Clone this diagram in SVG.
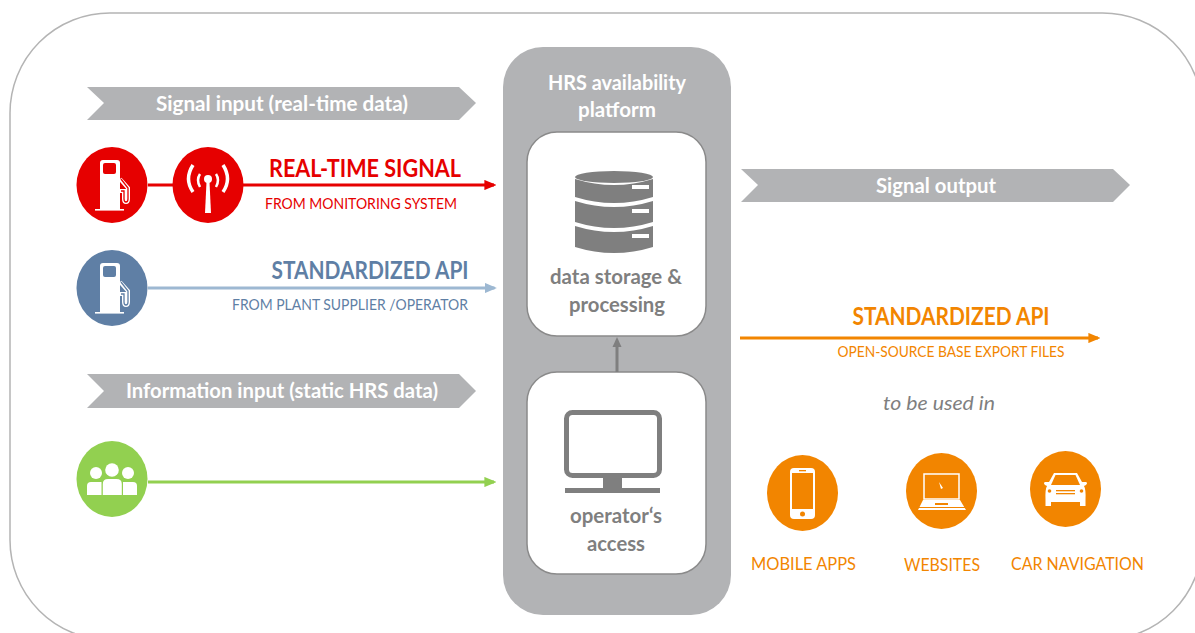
<svg xmlns="http://www.w3.org/2000/svg" width="1195" height="633" viewBox="0 0 1195 633">
<style>
text{font-family:Lato,"Liberation Sans",sans-serif}
.b{font-weight:700}
.band{fill:#b2b3b5}
.bt{fill:#fff;font-size:20px;font-weight:700;text-anchor:middle}
.box{fill:#fff;stroke:#8a8a8a;stroke-width:1.5}
.gt{fill:#7f7f7f;font-size:21px;font-weight:700;text-anchor:middle}
.o{fill:#f28500}
.ot{fill:#f28500;font-size:17px;text-anchor:middle}
.ic{fill:#fff}
.il{fill:none;stroke:#fff}
.g{fill:#7f7f7f}
</style>
<defs>
<marker id="ar" markerWidth="4" markerHeight="3.4" refX="3.2" refY="1.7" orient="auto"><path d="M0 0L4 1.700L0 3.400Z" fill="context-stroke"/></marker>
<g id="pump">
<path class="ic" d="M-12-22Q-12-25-9-25H5Q8-25 8-22V24H-12Z"/>
<rect x="-9" y="-22" width="13" height="11" rx="2" fill="var(--c)"/>
<rect class="ic" x="-17" y="24" width="29" height="1.600"/>
<path fill="none" stroke="#fff" stroke-width="4" d="M8-6L16 3V14Q16 17 14 17Q12 17 12 14V6H8"/>
<path fill="none" stroke="var(--c)" stroke-width="1.300" d="M9-6L16 3V14Q16 17 14 17Q12 17 12 14V6H9"/>
</g>
</defs>

<rect id="frame" x="10" y="13" width="1192.500" height="627" rx="100" ry="100" fill="#fff" stroke="#b4b4b4" stroke-width="1.500"/>

<g id="connectors" fill="none">
<path d="M148 185H494" stroke="#e60000" stroke-width="3" marker-end="url(#ar)"/>
<path d="M148 288H494.500" stroke="#9db8d2" stroke-width="3" marker-end="url(#ar)"/>
<path d="M148 482H494" stroke="#92d050" stroke-width="3" marker-end="url(#ar)"/>
<path d="M740 338H1098" stroke="#f28500" stroke-width="3" marker-end="url(#ar)"/>
</g>

<g id="signal-input"><path class="band" d="M87 87H459L476 103L459 120H87L104 103Z"/><text class="bt" x="282" y="111" textLength="252" lengthAdjust="spacingAndGlyphs">Signal input (real-time data)</text></g>
<g id="info-input"><path class="band" d="M87 374H459L476 391L459 408H87L104 391Z"/><text class="bt" x="282" y="398" textLength="312" lengthAdjust="spacingAndGlyphs">Information input (static HRS data)</text></g>
<g id="signal-output"><path class="band" d="M741 169H1113L1130 185L1113 202H741L758 185Z"/><text class="bt" x="936" y="193" textLength="120" lengthAdjust="spacingAndGlyphs">Signal output</text></g>

<g id="red-pump"><ellipse cx="112" cy="185" rx="35.500" ry="38" fill="#e60000"/><use href="#pump" x="112" y="185" style="--c:#e60000"/></g>
<g id="antenna"><ellipse cx="208" cy="185" rx="35.500" ry="38" fill="#e60000"/>
<path class="ic" d="M206.500 182H209.500L211 213H205Z"/><circle class="ic" cx="208" cy="179" r="4"/>
<path class="il" stroke-width="2.500" d="M200 174Q196 180 200 187M216 174Q220 180 216 187"/>
<path class="il" stroke-width="3.500" d="M193 165Q184 179 193 192M223 165Q232 179 223 192"/></g>
<g id="blue-pump"><ellipse cx="112" cy="288" rx="35.500" ry="38" fill="#5f7fa5"/><use href="#pump" x="112" y="288" style="--c:#5f7fa5"/></g>
<g id="people"><ellipse cx="112" cy="479" rx="35.500" ry="38" fill="#92d050"/>
<circle class="ic" cx="96" cy="473" r="6"/><circle class="ic" cx="128" cy="473" r="6"/><circle class="ic" cx="112" cy="470" r="6.800"/>
<path class="ic" d="M87 495V486Q87 482 91 482H101.500V495Z"/>
<path class="ic" d="M137 495V486Q137 482 133 482H123V495Z"/>
<path class="ic" d="M102.800 495V484Q102.800 479 108 479H116.500Q121.800 479 121.800 484V495Z"/></g>

<text class="b" x="365" y="177" text-anchor="middle" font-size="24" fill="#e60000" textLength="192" lengthAdjust="spacingAndGlyphs">REAL-TIME SIGNAL</text>
<text x="361" y="209" text-anchor="middle" font-size="15" fill="#e60000" textLength="192" lengthAdjust="spacingAndGlyphs">FROM MONITORING SYSTEM</text>
<text class="b" x="370" y="279" text-anchor="middle" font-size="24" fill="#5f7fa5" textLength="197" lengthAdjust="spacingAndGlyphs">STANDARDIZED API</text>
<text x="350" y="310" text-anchor="middle" font-size="15" fill="#5f7fa5" textLength="236" lengthAdjust="spacingAndGlyphs">FROM PLANT SUPPLIER /OPERATOR</text>

<g id="platform">
<rect x="503" y="47" width="228" height="568" rx="40" fill="#b2b3b5"/>
<text class="bt" x="617" y="90" textLength="138" lengthAdjust="spacingAndGlyphs">HRS availability</text>
<text class="bt" x="617" y="117" textLength="78" lengthAdjust="spacingAndGlyphs">platform</text>
</g>
<g id="storage">
<rect class="box" x="527" y="132" width="179" height="204" rx="30"/>
<ellipse class="g" cx="614" cy="177" rx="39" ry="6"/>
<path class="g" d="M575 179Q614 191 653 179V197Q614 209 575 197Z"/>
<path class="g" d="M575 201Q614 213 653 201V222Q614 234 575 222Z"/>
<path class="g" d="M575 226Q614 238 653 226V247Q614 259 575 247Z"/>
<g class="ic"><rect x="632" y="185" width="17" height="4"/><rect x="632" y="209" width="17" height="4"/><rect x="632" y="234" width="17" height="4"/></g>
<text class="gt" x="616" y="284" textLength="132" lengthAdjust="spacingAndGlyphs">data storage &amp;</text>
<text class="gt" x="617" y="312" textLength="96" lengthAdjust="spacingAndGlyphs">processing</text>
</g>
<g id="operator">
<rect class="box" x="527" y="372" width="179" height="202" rx="30"/>
<rect x="566.500" y="412.500" width="93" height="63" rx="6" fill="none" stroke="#7f7f7f" stroke-width="5"/>
<rect class="g" x="603" y="477" width="19" height="12"/><rect class="g" x="565" y="488" width="95" height="5"/>
<text class="gt" x="616" y="523" textLength="92" lengthAdjust="spacingAndGlyphs">operator‘s</text>
<text class="gt" x="616" y="551" textLength="58" lengthAdjust="spacingAndGlyphs">access</text>
</g>
<g id="internal-arrow"><path d="M617 372V345" stroke="#7f7f7f" stroke-width="3" fill="none"/><path d="M617 337L612.500 347H621.500Z" class="g"/></g>

<text class="b" x="951" y="325" text-anchor="middle" font-size="24" fill="#f28500" textLength="197" lengthAdjust="spacingAndGlyphs">STANDARDIZED API</text>
<text x="951" y="357" text-anchor="middle" font-size="15" fill="#f28500" textLength="227" lengthAdjust="spacingAndGlyphs">OPEN-SOURCE BASE EXPORT FILES</text>
<text x="939" y="410" text-anchor="middle" font-size="20" font-style="italic" fill="#7f7f7f" textLength="112" lengthAdjust="spacingAndGlyphs">to be used in</text>

<g id="mobile"><ellipse class="o" cx="802.500" cy="493" rx="35.500" ry="38"/>
<rect class="ic" x="790" y="468" width="25" height="51" rx="4"/><rect class="o" x="792" y="473" width="21" height="36"/><rect class="o" x="799" y="470" width="7" height="1.300"/><circle class="o" cx="802.500" cy="514" r="2.500"/>
<text class="ot" x="803.500" y="570" textLength="105" lengthAdjust="spacingAndGlyphs">MOBILE APPS</text></g>
<g id="websites"><ellipse class="o" cx="941.500" cy="491" rx="35.500" ry="38"/>
<rect class="il" stroke-width="1.500" x="924" y="474" width="35" height="25"/>
<path class="ic" d="M939 482L943 488L941 489Z"/>
<path class="ic" d="M923 500H960L966 510H918Z"/>
<rect class="o" x="935" y="503" width="13" height="2"/><rect class="o" x="918" y="507" width="48" height="1"/>
<text class="ot" x="942" y="571" textLength="76" lengthAdjust="spacingAndGlyphs">WEBSITES</text></g>
<g id="car"><ellipse class="o" cx="1065.500" cy="489" rx="35.500" ry="38"/>
<path class="ic" d="M1054 473H1077L1082 482H1086Q1088 483 1086 485L1084 486Q1086 489 1085.500 500V506H1080V502H1051V506H1045.500V500Q1045 489 1047 486L1045 485Q1043 483 1045 482H1049Z"/>
<path class="o" d="M1055.500 475H1075.500L1080 485H1051Z"/>
<rect class="o" x="1056" y="490" width="19" height="1.300"/><rect class="o" x="1056" y="493" width="19" height="1.300"/><circle class="o" cx="1049.500" cy="491" r="1.800"/><circle class="o" cx="1081.500" cy="491" r="1.800"/>
<text class="ot" x="1077.500" y="570" textLength="133" lengthAdjust="spacingAndGlyphs">CAR NAVIGATION</text></g>
</svg>
